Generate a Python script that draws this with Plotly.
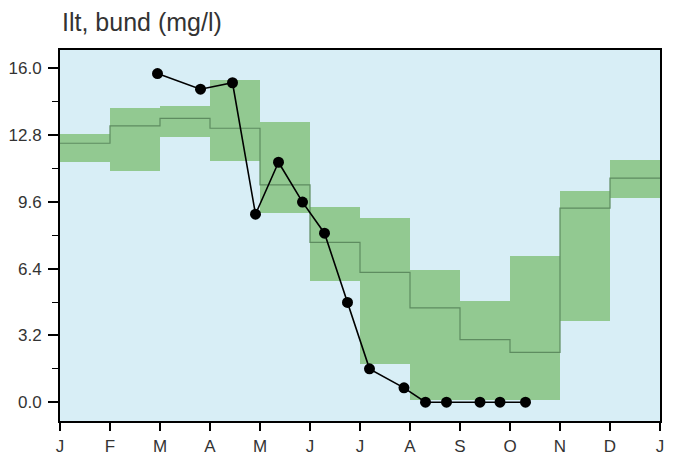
import plotly.graph_objects as go

# Month ticks
tick_vals = list(range(13))
tick_text = ["J", "F", "M", "A", "M", "J", "J", "A", "S", "O", "N", "D", "J"]

# Monthly reference bands (lower, upper) and median
band_lower = [11.53, 11.09, 12.73, 11.58, 9.06, 5.79, 1.84, 0.10, 0.10, 0.10, 3.88, 9.81]
band_upper = [12.84, 14.09, 14.20, 15.44, 13.44, 9.38, 8.85, 6.35, 4.83, 7.02, 10.14, 11.61]
band_median = [12.41, 13.24, 13.60, 13.13, 10.42, 7.66, 6.22, 4.52, 3.00, 2.39, 9.30, 10.74]

# Observations (time in months from 1 Jan, value in mg/l)
obs_time = [1.95, 2.81, 3.45, 3.91, 4.37, 4.85, 5.29, 5.75, 6.19, 6.88, 7.31, 7.73, 8.40, 8.80, 9.31]
obs_value = [15.75, 15.0, 15.31, 9.01, 11.5, 9.59, 8.1, 4.78, 1.6, 0.69, 0.0, 0.0, 0.0, 0.0, 0.0]

y_ticks = [0.0, 3.2, 6.4, 9.6, 12.8, 16.0]

fig = go.Figure()

fig.add_trace(go.Bar(
    x=[m + 0.5 for m in range(12)],
    y=[u - l for u, l in zip(band_upper, band_lower)],
    base=band_lower,
    width=1.0,
    marker=dict(color="#92c991", line=dict(width=0)),
    hoverinfo="skip",
    showlegend=False,
))

fig.add_trace(go.Scatter(
    x=list(range(13)),
    y=band_median + [band_median[-1]],
    mode="lines",
    line=dict(shape="hv", color="#5e8c60", width=1.2),
    hoverinfo="skip",
    showlegend=False,
))

fig.add_trace(go.Scatter(
    x=obs_time,
    y=obs_value,
    mode="lines+markers",
    line=dict(color="black", width=1.6),
    marker=dict(color="black", size=11),
    showlegend=False,
))

font_family = "Liberation Sans, Arial, sans-serif"

fig.update_layout(
    width=678, height=459,
    margin=dict(l=60, r=18, t=50, b=38),
    paper_bgcolor="white",
    plot_bgcolor="#d8eef6",
    bargap=0,
    font=dict(family=font_family, size=16, color="#333333"),
    xaxis=dict(
        range=[0, 12],
        tickvals=tick_vals,
        ticktext=tick_text,
        ticks="outside",
        ticklen=8,
        tickwidth=1.5,
        tickcolor="black",
        ticklabelstandoff=1,
        showgrid=False,
        zeroline=False,
        showline=True,
        mirror=True,
        linecolor="black",
        linewidth=2,
        automargin=False,
        tickfont=dict(size=17, color="#333333"),
        fixedrange=True,
    ),
    yaxis=dict(
        range=[-0.9, 16.88],
        tickvals=y_ticks,
        tickformat=".1f",
        ticks="outside",
        ticklen=10,
        tickwidth=1.5,
        tickcolor="black",
        ticklabelstandoff=3,
        minor=dict(ticks="outside", ticklen=6, tickwidth=1.2, tickcolor="black", dtick=1.6, tick0=0),
        showgrid=False,
        zeroline=False,
        showline=True,
        mirror=True,
        linecolor="black",
        linewidth=2,
        automargin=False,
        tickfont=dict(size=17, color="#333333"),
        fixedrange=True,
    ),
    annotations=[dict(
        text="Ilt, bund (mg/l)",
        xref="paper", yref="paper",
        x=0, y=1, yshift=44,
        xanchor="left", yanchor="top",
        showarrow=False,
        font=dict(size=25, color="#333333", family=font_family),
    )],
)

fig.write_html("out.html")
